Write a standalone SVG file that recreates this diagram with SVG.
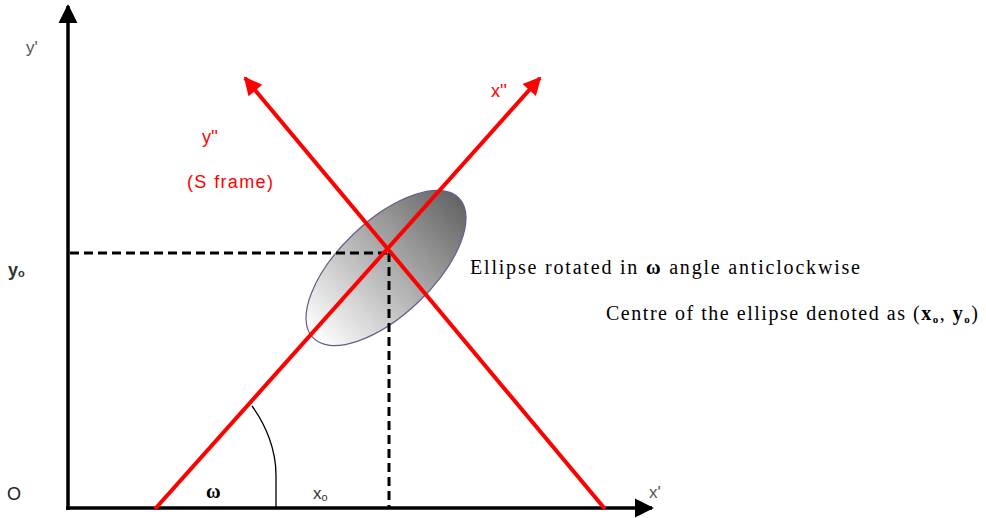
<svg xmlns="http://www.w3.org/2000/svg" width="986" height="518" viewBox="0 0 986 518">
<style>
.ax{stroke:#000;stroke-width:3.5;fill:none}
.red{stroke:#ff0000;stroke-width:4;fill:none}
.dash{stroke:#000;stroke-width:3;stroke-dasharray:9 5;fill:none}
.sans{font-family:"Liberation Sans",Arial,sans-serif}
.serif{font-family:"Liberation Serif","Times New Roman",serif;font-size:20px;fill:#000}
.gray{fill:#555;font-size:17px}
.rt{fill:#ff0000;font-size:18px}
</style>
<defs>
<linearGradient id="eg" x1="0" y1="0.5" x2="1" y2="0.5">
<stop offset="0" stop-color="#ffffff"/>
<stop offset="1" stop-color="#646464"/>
</linearGradient>
<marker id="ab" viewBox="0 0 10 10" refX="9" refY="5" markerWidth="5.5" markerHeight="5.5" markerUnits="strokeWidth" orient="auto">
<path d="M0,0 L10,5 L0,10 z" fill="#000"/>
</marker>
<marker id="ar" viewBox="0 0 10 10" refX="9" refY="5" markerWidth="5.5" markerHeight="4.5" markerUnits="strokeWidth" orient="auto">
<path d="M0,0 L10,5 L0,10 z" fill="#ff0000"/>
</marker>
</defs>
<g id="ellipse">
<ellipse cx="386" cy="268" rx="101" ry="47" transform="rotate(-43.6 386 268)" fill="url(#eg)" stroke="#6a5a8a" stroke-width="1.2"/>
</g>
<g id="connectors">
<line class="ax" x1="68" y1="510" x2="68" y2="6" marker-end="url(#ab)"/>
<line class="ax" x1="66" y1="508" x2="652" y2="508" marker-end="url(#ab)"/>
<line class="dash" x1="70" y1="253" x2="389" y2="253"/>
<line class="dash" x1="389" y1="253" x2="389" y2="508"/>
<line class="red" x1="155" y1="509" x2="540" y2="78" marker-end="url(#ar)"/>
<line class="red" x1="605" y1="509" x2="245" y2="78" marker-end="url(#ar)"/>
<path d="M252,406 C266,425 276,450 276,475 L276,508" stroke="#000" stroke-width="1.3" fill="none"/>
</g>
<g id="labels">
<text class="sans gray" x="26" y="53">y'</text>
<text class="sans gray" x="649" y="498">x'</text>
<text class="sans rt" x="202" y="143">y''</text>
<text class="sans rt" x="187" y="188" textLength="86">(S frame)</text>
<text class="sans rt" x="491" y="97">x''</text>
<text class="sans" x="7" y="500" font-size="18" fill="#222">O</text>
<text class="sans" x="8" y="276" font-size="18" font-weight="bold" fill="#333">y<tspan font-size="11" dy="1">o</tspan></text>
<text class="serif" x="206" y="498" font-size="17" font-weight="bold">ω</text>
<text class="sans" x="313" y="499" font-size="17" fill="#333">x<tspan font-size="11" dy="2">o</tspan></text>
<text class="serif" x="470" y="274" textLength="390">Ellipse rotated in <tspan font-weight="bold">ω</tspan> angle anticlockwise</text>
<text class="serif" x="606" y="320" textLength="372">Centre of the ellipse denoted as (<tspan font-weight="bold">x<tspan font-size="11" dy="3">o</tspan></tspan><tspan dy="-3">, </tspan><tspan font-weight="bold">y<tspan font-size="11" dy="3">o</tspan></tspan><tspan dy="-3">)</tspan></text>
</g>
</svg>
